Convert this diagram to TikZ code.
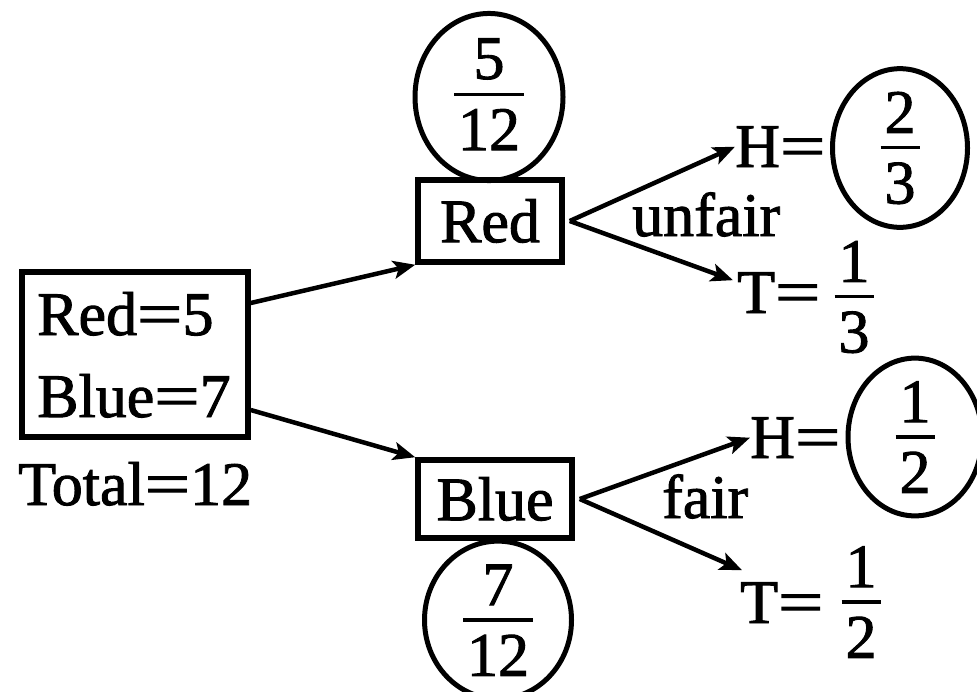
\documentclass[tikz,border=0pt]{standalone}
\usepackage{fontspec}
\setmainfont{Liberation Serif}[FakeBold=1.5]
\usetikzlibrary{arrows.meta,shapes.geometric}

% wide equals sign
\newcommand\eqsign{\scalebox{1.3}[1]{=}}
% stacked fraction with a thick bar, in text digits
\newcommand\stackfrac[2]{\vbox{\offinterlineskip\halign{\hskip4pt\hfil##\hfil\hskip4pt\cr
  \vrule height 41pt width 0pt #1\cr
  \noalign{\vskip13pt\hrule height 3.5pt\vskip13pt}
  \vrule height 41pt width 0pt #2\cr}}}

\begin{document}
\begin{tikzpicture}[x=1pt,y=-1pt,
  every node/.style={font=\fontsize{62}{74}\selectfont, inner sep=0pt},
  box/.style={draw, rectangle, line width=5.5pt},
  ring/.style={draw, ellipse, line width=5pt},
  link/.style={line width=4.5pt, -{Stealth[length=22pt,width=18pt,inset=5pt]}},
  lbl/.style={anchor=base west}]
\useasboundingbox (0,0) rectangle (977,691);
\clip (0,0) rectangle (977,691);

% urn contents
\node[box, minimum width=226pt, minimum height=165pt] (counts) at (135,354.5) {};
\node[lbl] (redcount) at (37,335) {Red\eqsign5};
\node[lbl] (bluecount) at (37,417) {Blue\eqsign7};
\node[lbl] (total) at (18,505) {Total\eqsign12};

% first draw
\node[box, minimum width=144pt, minimum height=82pt] (redbox) at (490,221) {Red};
\node[ring, minimum width=148pt, minimum height=139pt] (p512) at (489,97) {\raisebox{6pt}{\stackfrac{5}{12}}};
\node[box, minimum width=154pt, minimum height=78pt] (bluebox) at (495,499) {Blue};
\node[ring, minimum width=147pt, minimum height=145pt] (p712) at (498,620) {\stackfrac{7}{12}};

% coin after red: unfair
\node[lbl] (htop) at (735,167) {H\eqsign};
\node[ring, minimum width=135pt, minimum height=135pt] (p23) at (900,148) {\stackfrac{2}{3}};
\node[lbl] (ttop) at (737,313) {T\eqsign};
\node (p13) at (854,297) {\stackfrac{1}{3}};
\node[lbl] (unfair) at (632,236) {unfair};

% coin after blue: fair
\node[lbl] (hbot) at (750,458) {H\eqsign};
\node[ring, minimum width=134pt, minimum height=135pt] (p12h) at (915,437) {\stackfrac{1}{2}};
\node[lbl] (tbot) at (740,623) {T\eqsign};
\node (p12t) at (861,602) {\stackfrac{1}{2}};
\node[lbl] (fairlbl) at (662,518) {fair};

% branches
\draw[link] ([yshift=51.5pt]counts.east) -- (redbox.south west);
\draw[link] ([yshift=-55.5pt]counts.east) -- (bluebox.north west);
\draw[link] ([xshift=5pt]redbox.east) -- (htop.west);
\draw[link] ([xshift=5pt]redbox.east) -- ([shift={(-4pt,-8pt)}]ttop.north west);
\draw[link] ([xshift=5pt]bluebox.east) -- (hbot.west);
\draw[link] ([xshift=5pt]bluebox.east) -- ([shift={(2pt,12pt)}]tbot.north west);
\end{tikzpicture}
\end{document}
